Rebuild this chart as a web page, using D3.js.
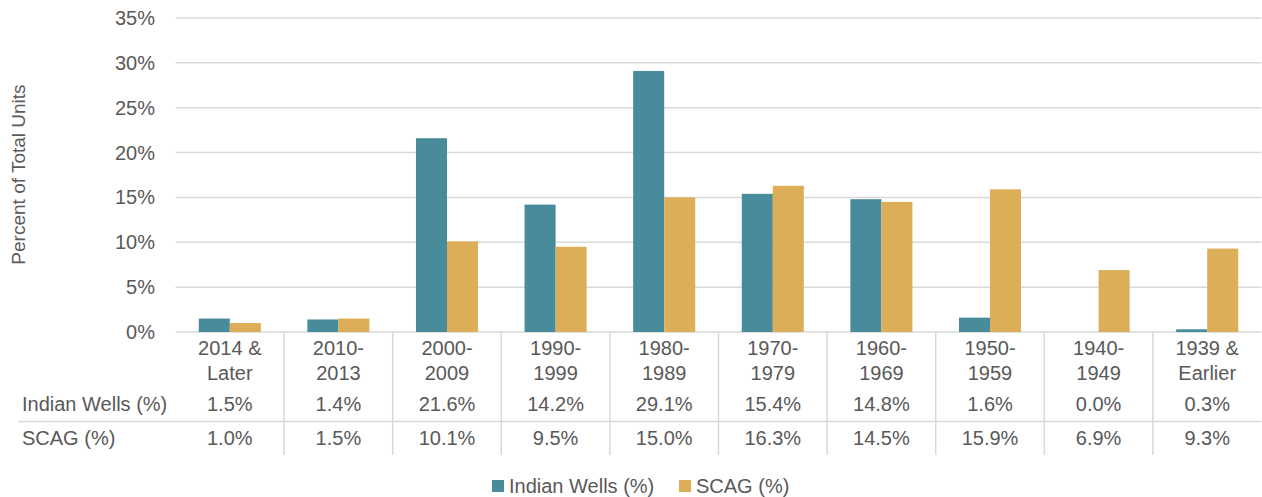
<!DOCTYPE html>
<html>
<head>
<meta charset="utf-8">
<script src="https://cdn.jsdelivr.net/npm/d3@7"></script>
<style>
  body { margin: 0; background: #fff; }
  text { font-family: "Liberation Sans", Arial, sans-serif; fill: #595959; }
</style>
</head>
<body>
<svg width="1262" height="497"></svg>
<script>
// data
var categories = [["2014 &", "Later"], ["2010-", "2013"], ["2000-", "2009"], ["1990-", "1999"], ["1980-", "1989"],
                  ["1970-", "1979"], ["1960-", "1969"], ["1950-", "1959"], ["1940-", "1949"], ["1939 &", "Earlier"]];
var seriesNames = ["Indian Wells (%)", "SCAG (%)"];
var indianWells = [1.5, 1.4, 21.6, 14.2, 29.1, 15.4, 14.8, 1.6, 0.0, 0.3];
var scag = [1.0, 1.5, 10.1, 9.5, 15.0, 16.3, 14.5, 15.9, 6.9, 9.3];
var yTicks = [0, 5, 10, 15, 20, 25, 30, 35];
var colors = ["#488b9a", "#dcae58"];

var values = [indianWells, scag];
var svg = d3.select("svg");

// scales
var x = d3.scaleBand().domain(d3.range(categories.length)).range([175.5, 1261.5]).padding(0);
var bw = x.bandwidth();
var barW = bw / 3.5;  // gap width 150%
var x1 = d3.scaleBand().domain([0, 1]).range([bw / 2 - barW, bw / 2 + barW]).padding(0);
var y = d3.scaleLinear().domain([0, 35]).range([332, 18]);

// gridlines
svg.append("g").selectAll("line").data(yTicks).enter().append("line")
    .attr("x1", 175.5).attr("x2", 1261.5)
    .attr("y1", function(d){ return y(d); }).attr("y2", function(d){ return y(d); })
    .attr("stroke", "#d9d9d9").attr("stroke-width", 1.5);

// y tick labels
svg.append("g").selectAll("text").data(yTicks).enter().append("text")
    .attr("x", 155).attr("y", function(d){ return y(d); }).attr("dy", "0.35em")
    .attr("text-anchor", "end").style("font-size", "20px")
    .text(function(d){ return d + "%"; });

// y title
svg.append("text")
    .attr("transform", "translate(25,174.5) rotate(-90)")
    .attr("text-anchor", "middle").style("font-size", "19px")
    .text("Percent of Total Units");

// bars
var groups = svg.append("g").selectAll("g").data(categories).enter().append("g")
    .attr("transform", function(d, i){ return "translate(" + x(i) + ",0)"; });
groups.selectAll("rect").data(function(d, i){ return values.map(function(v, s){ return {s: s, v: v[i]}; }); })
    .enter().append("rect")
    .attr("x", function(d){ return x1(d.s); })
    .attr("width", x1.bandwidth())
    .attr("y", function(d){ return y(d.v); })
    .attr("height", function(d){ return y(0) - y(d.v); })
    .attr("fill", function(d){ return colors[d.s]; });

// table lines
svg.append("g").selectAll("line").data(d3.range(1, categories.length)).enter().append("line")
    .attr("x1", function(d){ return x(d); }).attr("x2", function(d){ return x(d); })
    .attr("y1", 332).attr("y2", 455)
    .attr("stroke", "#d9d9d9").attr("stroke-width", 1.5);
svg.append("line").attr("x1", 18).attr("x2", 1261.5).attr("y1", 421.5).attr("y2", 421.5)
    .attr("stroke", "#d9d9d9").attr("stroke-width", 1.5);

// category labels
groups.append("text").attr("x", bw / 2).attr("y", 355).attr("text-anchor", "middle")
    .style("font-size", "20px").text(function(d){ return d[0]; });
groups.append("text").attr("x", bw / 2).attr("y", 380).attr("text-anchor", "middle")
    .style("font-size", "20px").text(function(d){ return d[1]; });

// table rows
var rowY = [411, 445];
seriesNames.forEach(function(name, s){
  svg.append("text").attr("x", 22).attr("y", rowY[s]).style("font-size", "20px").text(name);
  groups.append("text").attr("x", bw / 2).attr("y", rowY[s]).attr("text-anchor", "middle")
      .style("font-size", "20px").text(function(d, i){ return values[s][i].toFixed(1) + "%"; });
});

// legend
var legendX = [492, 679];
seriesNames.forEach(function(name, s){
  svg.append("rect").attr("x", legendX[s]).attr("y", 480).attr("width", 12).attr("height", 12)
      .attr("fill", colors[s]);
  svg.append("text").attr("x", legendX[s] + 17).attr("y", 493).style("font-size", "20px").text(name);
});
</script>
</body>
</html>
